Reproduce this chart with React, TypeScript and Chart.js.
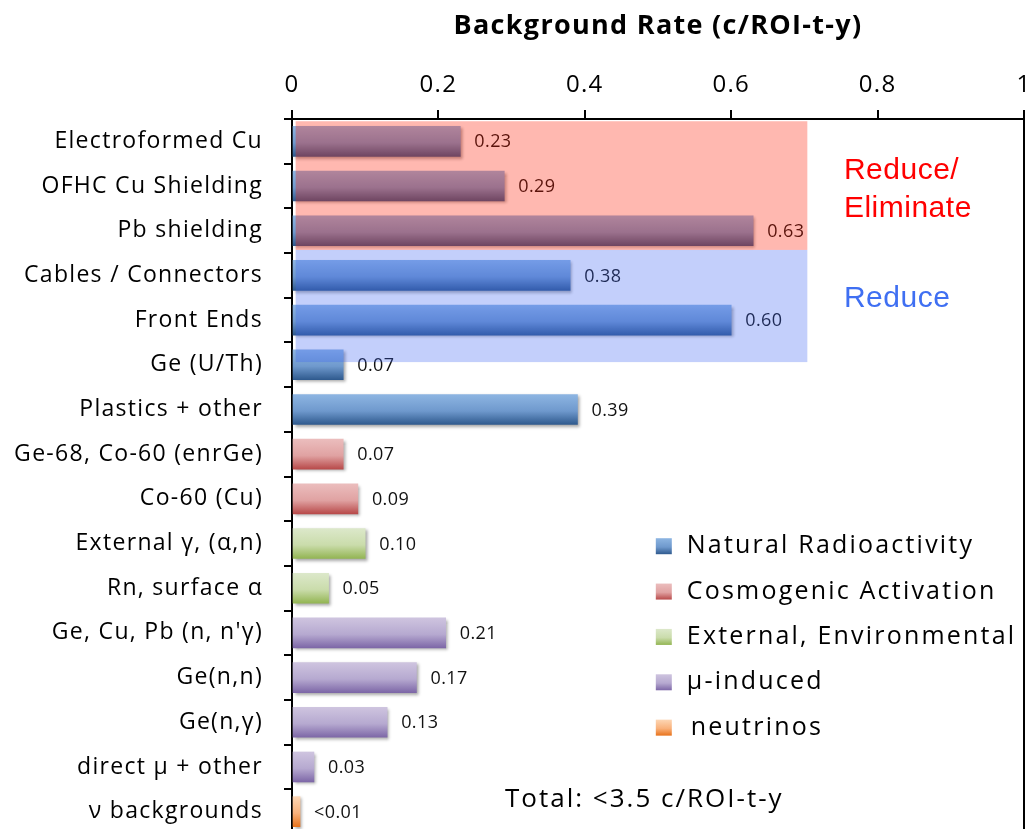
import React, { useEffect, useRef } from "react";
import { Chart, registerables } from "chart.js";

Chart.register(...registerables);

const categories = [
  "Electroformed Cu",
  "OFHC Cu Shielding",
  "Pb shielding",
  "Cables / Connectors",
  "Front Ends",
  "Ge (U/Th)",
  "Plastics + other",
  "Ge-68, Co-60 (enrGe)",
  "Co-60 (Cu)",
  "External γ, (α,n)",
  "Rn, surface α",
  "Ge, Cu, Pb (n, n'γ)",
  "Ge(n,n)",
  "Ge(n,γ)",
  "direct μ + other",
  "ν backgrounds",
];

const groupNames = [
  "Natural Radioactivity",
  "Cosmogenic Activation",
  "External, Environmental",
  "μ-induced",
  "neutrinos",
];

const naturalValues = [0.23, 0.29, 0.63, 0.38, 0.6, 0.07, 0.39];
const cosmogenicValues = [0.07, 0.09];
const externalValues = [0.1, 0.05];
const muonValues = [0.21, 0.17, 0.13, 0.03];
const neutrinoValues = [0.011];

const valueLabels = [
  "0.23", "0.29", "0.63", "0.38", "0.60", "0.07", "0.39",
  "0.07", "0.09", "0.10", "0.05", "0.21", "0.17", "0.13", "0.03", "<0.01",
];

const xTickValues = [0, 0.2, 0.4, 0.6, 0.8, 1];

// gradient stops per group: top, middle, bottom
const groupColors = [
  ["#8db5e2", "#6f99cd", "#2f5a8e"],
  ["#ebbdbd", "#e0a2a2", "#b84a4a"],
  ["#dce8ca", "#cadcab", "#93b553"],
  ["#cec4df", "#b6a9d0", "#7d67a7"],
  ["#fdd6b4", "#f9b17b", "#e8731c"],
];

const allGroups = [naturalValues, cosmogenicValues, externalValues, muonValues, neutrinoValues];

function buildDatasetData(groupIndex: number): (number | null)[] {
  const out: (number | null)[] = new Array(categories.length).fill(null);
  let start = 0;
  for (let g = 0; g < groupIndex; g++) start += allGroups[g].length;
  allGroups[groupIndex].forEach((v, i) => {
    out[start + i] = v;
  });
  return out;
}

const FONT = "'Open Sans', 'DejaVu Sans', sans-serif";
const BAR_THICK = 30;

function makeGradient(ctx: CanvasRenderingContext2D, y0: number, y1: number, stops: string[]) {
  const g = ctx.createLinearGradient(0, y0, 0, y1);
  g.addColorStop(0, stops[0]);
  g.addColorStop(0.55, stops[1]);
  g.addColorStop(1, stops[2]);
  return g;
}

export default function App() {
  const canvasRef = useRef<HTMLCanvasElement | null>(null);

  useEffect(() => {
    const canvas = canvasRef.current;
    if (!canvas) return;

    const decorPlugin = {
      id: "decor",
      beforeDraw(chart: any) {
        (chart.ctx as any).letterSpacing = "1.3px";
      },
      beforeDatasetsDraw(chart: any) {
        const ctx = chart.ctx;
        ctx.save();
        ctx.shadowColor = "rgba(0,0,0,0.35)";
        ctx.shadowBlur = 3;
        ctx.shadowOffsetX = 2;
        ctx.shadowOffsetY = 2;
      },
      afterDatasetsDraw(chart: any) {
        const ctx = chart.ctx;
        ctx.restore();
        const xs = chart.scales.x;
        const ys = chart.scales.y;
        const area = chart.chartArea;

        // value labels
        ctx.save();
        ctx.letterSpacing = "0.4px";
        ctx.font = `18px ${FONT}`;
        ctx.fillStyle = "#111";
        ctx.textAlign = "left";
        ctx.textBaseline = "middle";
        chart.data.datasets.forEach((ds: any) => {
          ds.data.forEach((v: number | null, i: number) => {
            if (v == null) return;
            ctx.fillText(valueLabels[i], xs.getPixelForValue(v) + 14, ys.getPixelForValue(i) + 1);
          });
        });
        ctx.restore();

        // highlighted zones (translucent overlays)
        ctx.save();
        const zx0 = xs.getPixelForValue(0.005);
        const zx1 = xs.getPixelForValue(0.704);
        const pinkTop = ys.getPixelForValue(-0.45);
        const mid = ys.getPixelForValue(2.43);
        const blueBottom = ys.getPixelForValue(4.94);
        ctx.fillStyle = "rgba(255,25,0,0.31)";
        ctx.fillRect(zx0, pinkTop, zx1 - zx0, mid - pinkTop);
        ctx.fillStyle = "rgba(61,100,242,0.31)";
        ctx.fillRect(zx0, mid, zx1 - zx0, blueBottom - mid);
        ctx.restore();

        // zone captions
        ctx.save();
        ctx.letterSpacing = "0.5px";
        ctx.font = `30px 'Liberation Sans', Arial, sans-serif`;
        ctx.textAlign = "left";
        ctx.textBaseline = "alphabetic";
        const tx = xs.getPixelForValue(0.754);
        ctx.fillStyle = "#ff0000";
        ctx.fillText("Reduce/", tx, ys.getPixelForValue(0.84));
        ctx.fillText("Eliminate", tx, ys.getPixelForValue(1.69));
        ctx.fillStyle = "#3f6ff2";
        ctx.fillText("Reduce", tx, ys.getPixelForValue(3.7));
        ctx.restore();

        // right frame line
        ctx.save();
        ctx.strokeStyle = "#000";
        ctx.lineWidth = 2;
        ctx.beginPath();
        ctx.moveTo(area.right, area.top);
        ctx.lineTo(area.right, area.bottom + 10);
        ctx.stroke();
        ctx.restore();

        // legend
        ctx.save();
        const lx = xs.getPixelForValue(0.497);
        ctx.letterSpacing = "2.2px";
        ctx.font = `25px ${FONT}`;
        ctx.textBaseline = "middle";
        ctx.textAlign = "left";
        chart.data.datasets.forEach((ds: any, gi: number) => {
          const cy = ys.getPixelForValue(9.06 + gi * 1.015);
          ctx.fillStyle = makeGradient(ctx, cy - 8, cy + 8, groupColors[gi]);
          ctx.fillRect(lx, cy - 8, 16, 16);
          ctx.fillStyle = "#000";
          ctx.fillText(ds.label, lx + 31 + (gi === 4 ? 4 : 0), cy);
        });
        ctx.restore();

        // total
        ctx.save();
        ctx.letterSpacing = "2px";
        ctx.font = `26px ${FONT}`;
        ctx.fillStyle = "#000";
        ctx.textAlign = "left";
        ctx.textBaseline = "alphabetic";
        ctx.fillText("Total: <3.5 c/ROI-t-y", xs.getPixelForValue(0.291), ys.getPixelForValue(14.9));
        ctx.restore();
      },
    };

    const datasets = groupNames.map((name, gi) => ({
      label: name,
      data: buildDatasetData(gi),
      grouped: false,
      barThickness: BAR_THICK,
      borderWidth: 0,
      backgroundColor: (c: any) => {
        const chart = c.chart;
        const ys = chart.scales && chart.scales.y;
        if (!ys || c.type !== "data") return groupColors[gi][1];
        const yc = ys.getPixelForValue(c.dataIndex);
        if (!Number.isFinite(yc)) return groupColors[gi][1];
        return makeGradient(chart.ctx, yc - BAR_THICK / 2, yc + BAR_THICK / 2, groupColors[gi]);
      },
    }));

    const chart = new Chart(canvas, {
      type: "bar",
      data: { labels: categories, datasets },
      plugins: [decorPlugin],
      options: {
        indexAxis: "y",
        responsive: false,
        animation: false,
        maintainAspectRatio: false,
        layout: { padding: { left: 0, right: 8, top: 0, bottom: 0 } },
        plugins: {
          legend: { display: false },
          tooltip: { enabled: false },
        },
        scales: {
          x: {
            type: "linear",
            position: "top",
            min: 0,
            max: 1,
            z: 1,
            afterBuildTicks: (s: any) => {
              s.ticks = xTickValues.map((v) => ({ value: v }));
            },
            afterFit: (s: any) => {
              s.height = 119;
              s.paddingLeft = 0;
              s.paddingRight = 0;
            },
            ticks: {
              color: "#000",
              font: { family: FONT, size: 24 },
              padding: 10,
              maxRotation: 0,
              callback: (v: any) => String(Number(v)),
            },
            grid: {
              drawOnChartArea: false,
              drawTicks: true,
              tickLength: 9,
              color: "#000",
              lineWidth: 2,
            },
            border: { display: true, color: "#000", width: 2 },
            title: {
              display: true,
              text: "Background Rate (c/ROI-t-y)",
              color: "#000",
              font: { family: FONT, size: 27, weight: "bold" },
              padding: { top: 10, bottom: 0 },
            },
          },
          y: {
            type: "category",
            offset: true,
            z: 1,
            afterFit: (s: any) => {
              s.width = 292;
              s.paddingTop = 0;
              s.paddingBottom = 0;
            },
            ticks: {
              color: "#000",
              font: { family: FONT, size: 23 },
              padding: 21,
              autoSkip: false,
            },
            grid: {
              offset: true,
              drawOnChartArea: false,
              drawTicks: true,
              tickLength: 8,
              color: "#000",
              lineWidth: 2,
            },
            border: { display: true, color: "#000", width: 2 },
          },
        },
      } as any,
    });

    return () => {
      chart.destroy();
    };
  }, []);

  return (
    <div
      style={{
        position: "fixed",
        left: 0,
        top: 0,
        width: 1032,
        height: 829,
        overflow: "hidden",
        background: "#fff",
      }}
    >
      <canvas ref={canvasRef} width={1032} height={834} style={{ display: "block" }} />
    </div>
  );
}
